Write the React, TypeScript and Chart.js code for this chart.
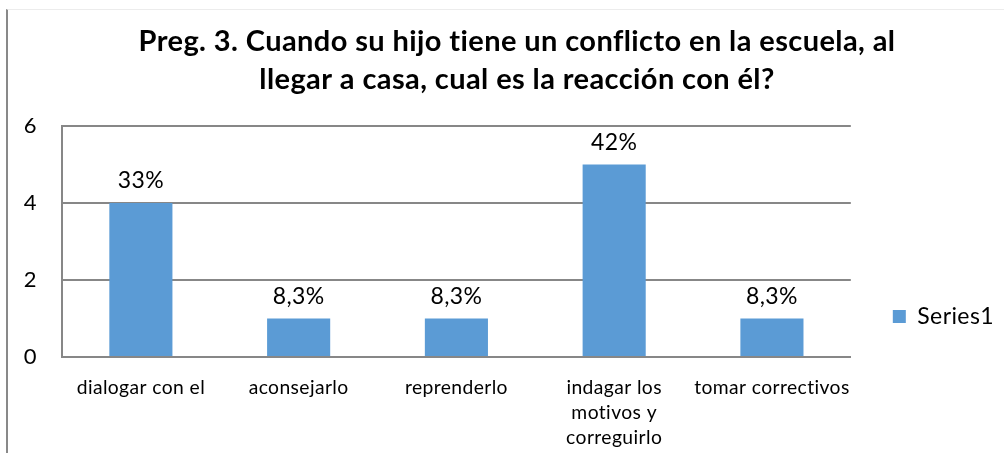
import React, { useEffect, useRef } from "react";
import { Chart, registerables } from "chart.js";

Chart.register(...registerables);

const titleLines = [
  "Preg. 3. Cuando su hijo tiene un conflicto en la escuela, al",
  "llegar a casa, cual es la reacción con él?",
];
const categories: (string | string[])[] = [
  "dialogar con el",
  "aconsejarlo",
  "reprenderlo",
  ["indagar los", "motivos y", "correguirlo"],
  "tomar correctivos",
];
const seriesName = "Series1";
const values = [4, 1, 1, 5, 1];
const percentLabels = ["33%", "8,3%", "8,3%", "42%", "8,3%"];
const yTicks = [0, 2, 4, 6];

const FONT = "Lato, 'Open Sans', sans-serif";
const GRID = "#878787";
const BAR = "#5B9BD5";
const SPACING = "0.4px";

const spacingPlugin = {
  id: "spacing",
  beforeUpdate(chart: any) {
    (chart.ctx as any).letterSpacing = SPACING;
  },
  beforeDraw(chart: any) {
    (chart.ctx as any).letterSpacing = SPACING;
  },
  afterLayout(chart: any) {
    // let the y tick labels extend into the left layout padding without clipping
    const y = chart.scales.y;
    if (y) y.left = 0;
  },
};

const dataLabelPlugin = {
  id: "dataLabels",
  afterDatasetsDraw(chart: any) {
    const ctx = chart.ctx;
    const meta = chart.getDatasetMeta(0);
    ctx.save();
    ctx.font = `23px ${FONT}`;
    ctx.fillStyle = "#000";
    ctx.textAlign = "center";
    ctx.textBaseline = "middle";
    meta.data.forEach((el: any, i: number) => {
      ctx.fillText(percentLabels[i], el.x, el.y - 22);
    });
    ctx.restore();
  },
};

export default function App() {
  const ref = useRef<HTMLCanvasElement | null>(null);
  useEffect(() => {
    if (!ref.current) return;
    const chart = new Chart(ref.current, {
      type: "bar",
      data: {
        labels: categories,
        datasets: [
          {
            label: seriesName,
            data: values,
            backgroundColor: BAR,
            borderWidth: 0,
            barPercentage: 0.4,
            categoryPercentage: 1,
            yAxisID: "y",
          },
        ],
      },
      options: {
        responsive: false,
        animation: false,
        layout: { padding: { left: 22, right: 0, top: 0, bottom: 0 } },
        plugins: {
          tooltip: { enabled: false },
          title: {
            display: true,
            text: titleLines,
            color: "#000",
            font: { family: FONT, size: 29, weight: "bold", lineHeight: 38 / 29 },
            padding: { top: 13, bottom: 27 },
          },
          legend: {
            display: true,
            position: "right",
            align: "end",
            fullSize: false,
            maxWidth: 142,
            labels: {
              boxWidth: 13,
              boxHeight: 13,
              padding: 29,
              color: "#000",
              font: { family: FONT, size: 23 },
            },
          },
        },
        scales: {
          x: {
            grid: { display: false, drawTicks: false },
            border: { display: true, color: GRID, width: 2 },
            ticks: {
              autoSkip: false,
              maxRotation: 0,
              minRotation: 0,
              padding: 18,
              color: "#000",
              font: { family: FONT, size: 19.3, lineHeight: 25 / 19.3 },
            },
          },
          y: {
            min: 0,
            max: 6,
            afterBuildTicks: (s: any) => {
              s.ticks = yTicks.map((v) => ({ value: v }));
            },
            afterFit: (s: any) => {
              s.width = 32;
            },
            grid: { color: GRID, lineWidth: 2, drawTicks: false },
            border: { display: true, color: GRID, width: 2 },
            ticks: {
              padding: 25,
              color: "#000",
              font: { family: FONT, size: 22 },
            },
          },
          spacer: {
            type: "linear",
            position: "right",
            display: true,
            grid: { display: false, drawTicks: false },
            border: { display: false },
            ticks: { display: false },
            afterFit: (s: any) => {
              s.width = 13;
            },
          },
        },
      } as any,
      plugins: [spacingPlugin, dataLabelPlugin],
    });
    return () => chart.destroy();
  }, []);

  return (
    <div style={{ position: "absolute", left: 0, top: 0, width: 1004, height: 453, background: "#fff", overflow: "hidden" }}>
      <div
        style={{
          position: "absolute",
          left: 6,
          top: 9,
          width: 998,
          height: 444,
          borderLeft: "2px solid #898989",
          borderTop: "1px solid #ececec",
          boxSizing: "border-box",
          overflow: "hidden",
        }}
      >
        <canvas ref={ref} width={996} height={458} style={{ display: "block", width: 996, height: 458 }} />
      </div>
    </div>
  );
}
